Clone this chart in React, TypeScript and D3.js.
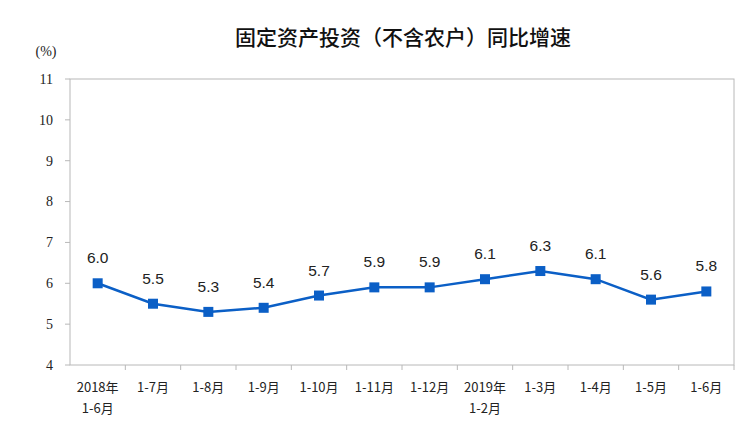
import React from "react";
import * as d3 from "d3";

const categories = ["2018年\n1-6月", "1-7月", "1-8月", "1-9月", "1-10月", "1-11月", "1-12月", "2019年\n1-2月", "1-3月", "1-4月", "1-5月", "1-6月"];
const values = [6.0, 5.5, 5.3, 5.4, 5.7, 5.9, 5.9, 6.1, 6.3, 6.1, 5.6, 5.8];
const yTicks = [4, 5, 6, 7, 8, 9, 10, 11];
const title = "固定资产投资（不含农户）同比增速";
const unit = "(%)";

export default function App() {
  const W = 746, H = 440;
  const left = 70, right = 734, top = 79, bottom = 365;
  const x = d3.scaleBand<string>().domain(categories).range([left, right]);
  const y = d3.scaleLinear().domain([4, 11]).range([bottom, top]);
  const line = d3.line<number>()
    .x((_, i) => (x(categories[i]) as number) + x.bandwidth() / 2)
    .y((d) => y(d));
  const blue = "#0b5fc6";
  const axisColor = "#b8b8b8";
  const cjk = "'Noto Sans CJK SC', sans-serif";
  return (
    <svg width={W} height={H} style={{ position: "absolute", left: 0, top: 0, background: "#fff" }}>
      <rect x={0} y={0} width={W} height={H} fill="#fff" />
      <text x={403} y={45} textAnchor="middle" fontFamily={cjk} fontSize={21} fontWeight={500} fill="#111">{title}</text>
      <text x={46} y={56} textAnchor="middle" fontFamily="'Liberation Serif', serif" fontSize={14} fill="#222">{unit}</text>
      <rect x={left} y={top} width={right - left} height={bottom - top} fill="none" stroke={axisColor} strokeWidth={1} />
      {yTicks.map((t) => (
        <g key={t}>
          <line x1={left - 5} x2={left} y1={y(t)} y2={y(t)} stroke={axisColor} />
          <text x={53} y={y(t)} dy="0.35em" textAnchor="end" fontFamily="'Liberation Serif', serif" fontSize={14} fill="#222">{t}</text>
        </g>
      ))}
      {categories.map((c, i) => (
        <line key={"t" + i} x1={(x(c) as number) + x.bandwidth()} x2={(x(c) as number) + x.bandwidth()} y1={bottom} y2={bottom + 5} stroke={axisColor} />
      ))}
      {categories.map((c, i) => {
        const lines = c.split("\n");
        const cx = (x(c) as number) + x.bandwidth() / 2;
        return (
          <text key={"l" + i} x={cx} y={392} textAnchor="middle" fontFamily={cjk} fontSize={13} fill="#222">
            {lines.map((s, j) => (
              <tspan key={j} x={cx} dy={j === 0 ? 0 : 21}>{s}</tspan>
            ))}
          </text>
        );
      })}
      <path d={line(values) || ""} fill="none" stroke={blue} strokeWidth={2.5} />
      {values.map((v, i) => {
        const cx = (x(categories[i]) as number) + x.bandwidth() / 2;
        return (
          <g key={"p" + i}>
            <rect x={cx - 5} y={y(v) - 5} width={10} height={10} fill={blue} />
            <text x={cx} y={y(v) - 20} textAnchor="middle" fontFamily="'Liberation Sans', Arial, sans-serif" fontSize={15.5} fill="#222">{v.toFixed(1)}</text>
          </g>
        );
      })}
    </svg>
  );
}
